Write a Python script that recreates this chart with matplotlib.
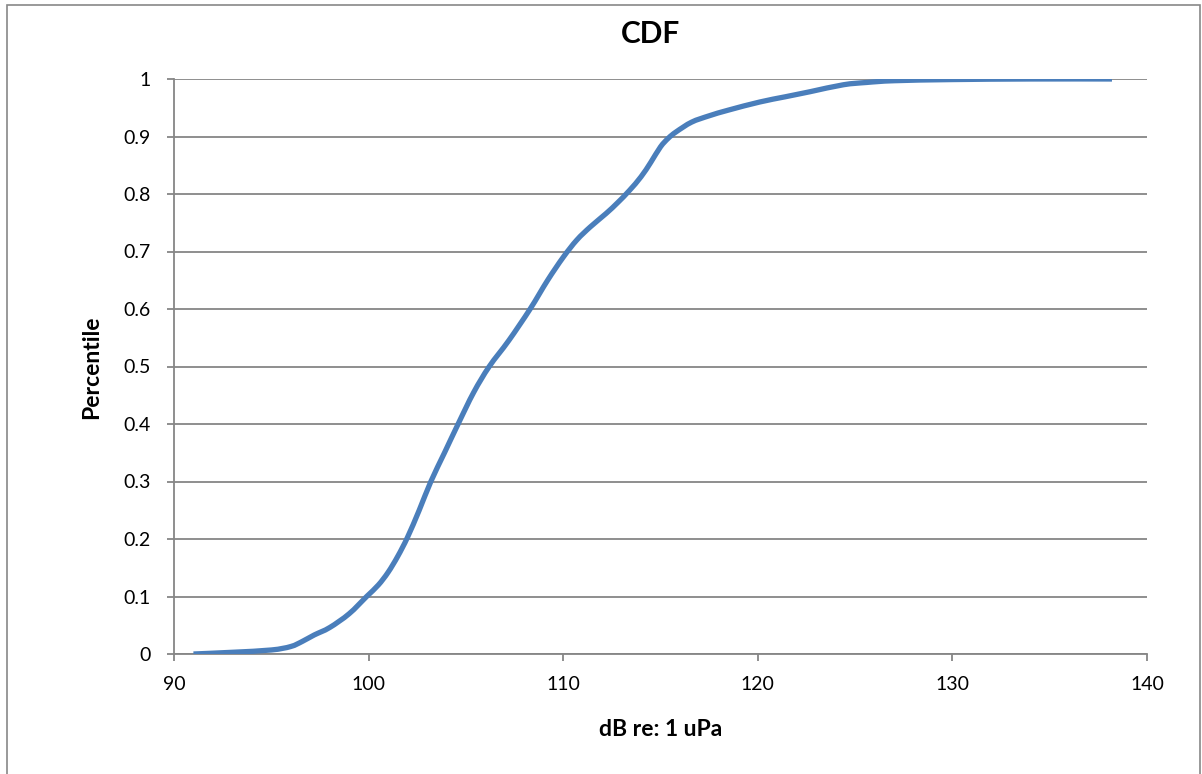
import matplotlib
matplotlib.use("Agg")
import matplotlib.pyplot as plt
from matplotlib.patches import Rectangle
from matplotlib.path import Path
from matplotlib.patches import PathPatch

# Data
level_db = [91.0, 93.0, 95.0, 96.0, 96.6, 97.2, 98.0, 99.0, 99.9, 100.5,
            101.0, 101.5, 102.0, 102.6, 103.2, 103.9, 104.6, 105.4, 106.2,
            107.2, 108.3, 109.2, 110.0, 110.7, 111.4, 112.2, 112.8, 113.4,
            114.0, 114.5, 115.0, 115.4, 115.8, 116.6, 117.5, 118.5, 120.1,
            121.4, 122.7, 124.4, 125.6, 127.0, 130.0, 134.0, 138.2]
percentile = [0.0, 0.003, 0.007, 0.013, 0.022, 0.033, 0.046, 0.070, 0.100,
              0.120, 0.142, 0.170, 0.203, 0.250, 0.300, 0.350, 0.400, 0.455,
              0.500, 0.545, 0.600, 0.650, 0.690, 0.720, 0.743, 0.766, 0.785,
              0.806, 0.830, 0.855, 0.882, 0.897, 0.908, 0.925, 0.936, 0.946,
              0.960, 0.969, 0.978, 0.990, 0.994, 0.997, 0.999, 1.0, 1.0]
x_ticks = [90, 100, 110, 120, 130, 140]
y_ticks = [0, 0.1, 0.2, 0.3, 0.4, 0.5, 0.6, 0.7, 0.8, 0.9, 1]
y_tick_labels = ["0", "0.1", "0.2", "0.3", "0.4", "0.5", "0.6", "0.7", "0.8", "0.9", "1"]

plt.rcParams['font.family'] = ['Lato', 'DejaVu Sans']

W, H = 1202, 774
fig = plt.figure(figsize=(W / 100, H / 100), dpi=100)
ax = fig.add_axes([174 / W, 1 - 654 / H, (1147 - 174) / W, (654 - 79) / H])

grid_c = '#868686'
line_c = '#4a7ebb'


def smooth_path(xs, ys, tension=1 / 6):
    """Excel-style smoothed line: cubic Bezier through the points."""
    verts = [(xs[0], ys[0])]
    codes = [Path.MOVETO]
    n = len(xs)
    for i in range(n - 1):
        x0, y0 = (xs[i - 1], ys[i - 1]) if i > 0 else (xs[i], ys[i])
        x1, y1 = xs[i], ys[i]
        x2, y2 = xs[i + 1], ys[i + 1]
        x3, y3 = (xs[i + 2], ys[i + 2]) if i + 2 < n else (x2, y2)
        c1 = (x1 + (x2 - x0) * tension, y1 + (y2 - y0) * tension)
        c2 = (x2 - (x3 - x1) * tension, y2 - (y3 - y1) * tension)
        verts += [c1, c2, (x2, y2)]
        codes += [Path.CURVE4] * 3
    return Path(verts, codes)


ax.add_patch(PathPatch(smooth_path(level_db, percentile), facecolor='none',
                       edgecolor=line_c, lw=3.8, capstyle='butt',
                       joinstyle='round', zorder=3))

ax.set_xlim(90, 140)
ax.set_ylim(0, 1)
ax.set_xticks(x_ticks)
ax.set_yticks(y_ticks)
ax.set_yticklabels(y_tick_labels)
ax.grid(axis='y', color=grid_c, lw=1.3)
ax.set_axisbelow(True)
for s in ['top', 'right']:
    ax.spines[s].set_visible(False)
for s in ['left', 'bottom']:
    ax.spines[s].set_color(grid_c)
    ax.spines[s].set_linewidth(1.3)
ax.tick_params(axis='both', colors=grid_c, labelcolor='black', labelsize=14,
               length=5, width=1.3, direction='out')
ax.tick_params(axis='x', pad=11)
ax.tick_params(axis='y', pad=12)

fig.text(651 / W, 1 - 34 / H, 'CDF', fontsize=21.5, fontweight='bold',
         ha='center', va='center')
ax.set_xlabel('dB re: 1 uPa', fontsize=16.5, fontweight='bold')
ax.set_ylabel('Percentile', fontsize=16.5, fontweight='bold')
ax.xaxis.set_label_coords((661 - 174) / (1147 - 174), -(729 - 654) / (654 - 79))
ax.xaxis.label.set_va('center')
ax.yaxis.set_label_coords(-(174 - 92) / (1147 - 174), (654 - 367) / (654 - 79))
ax.yaxis.label.set_va('center')

fig.patches.append(Rectangle((6.5 / W, -0.1), (1200 - 6.5) / W, 1.1 - 5.5 / H,
                             transform=fig.transFigure, fill=False,
                             edgecolor='#888888', lw=1.2))

fig.savefig('out.png', dpi=100)
